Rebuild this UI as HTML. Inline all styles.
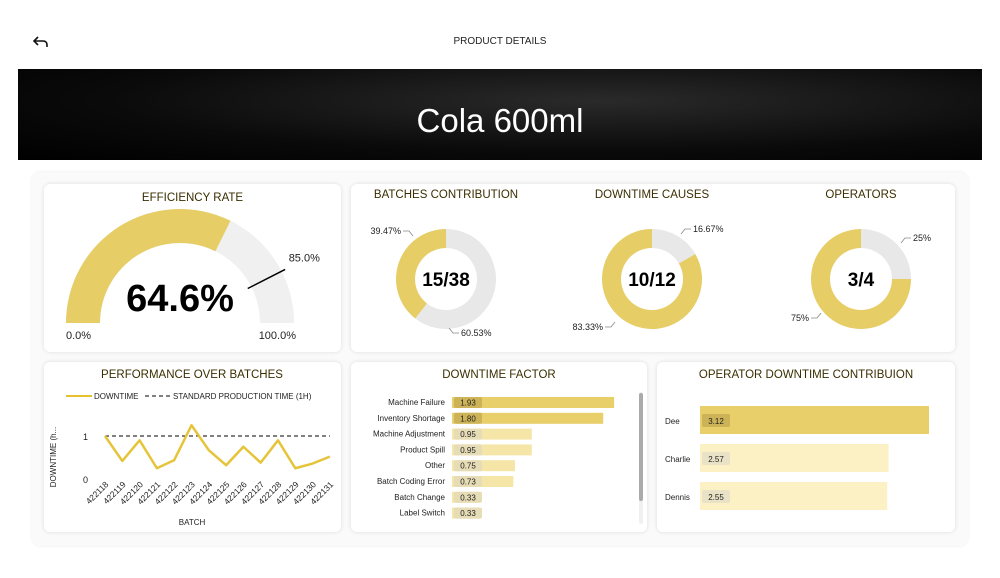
<!DOCTYPE html>
<html><head><meta charset="utf-8">
<style>
body{margin:0;width:1000px;height:578px;background:#fff;font-family:"Liberation Sans",sans-serif;overflow:hidden;position:relative}
.abs{position:absolute}
.card{position:absolute;background:#fff;border-radius:6px;box-shadow:0 0 4px rgba(0,0,0,0.12)}
.t{position:absolute;font-size:11.5px;color:#3a2e00;text-align:center;width:100%}
</style></head><body>
<svg class="abs" style="left:32px;top:34px" width="18" height="16" viewBox="0 0 18 16"><path d="M6 3 L2 7 L6 11 M2 7 H11 Q15 7 15 11 V13" fill="none" stroke="#111" stroke-width="1.6"/></svg>
<div class="abs" style="left:0;width:1000px;top:36px;text-align:center;font-size:10px;color:#222">PRODUCT DETAILS</div>
<div class="abs" style="left:18px;top:69px;width:964px;height:91px;background:radial-gradient(ellipse at 60% 35%,#2a2a2a 0%,#0a0a0a 60%,#000 100%)">
<div style="color:#fff;font-size:33px;text-align:center;margin-top:33px">Cola 600ml</div></div>
<div class="abs" style="left:32px;top:172px;width:936px;height:374px;background:#fafafa;border-radius:8px;box-shadow:0 0 3px rgba(0,0,0,0.08)"></div>

<div class="card" style="left:44px;top:184px;width:297px;height:168px">
<div class="t" style="top:8px">EFFICIENCY RATE</div></div>
<svg class="abs" id="gauge" style="left:44px;top:184px" width="297" height="168"></svg>

<div class="card" style="left:351px;top:184px;width:604px;height:168px"></div>
<svg class="abs" id="donuts" style="left:351px;top:184px" width="604" height="168"></svg>

<div class="card" style="left:44px;top:362px;width:297px;height:170px"></div>
<svg class="abs" id="perf" style="left:44px;top:362px" width="297" height="170"></svg>

<div class="card" style="left:351px;top:362px;width:296px;height:170px"></div>
<svg class="abs" id="factor" style="left:351px;top:362px" width="296" height="170"></svg>

<div class="card" style="left:657px;top:362px;width:298px;height:170px"></div>
<svg class="abs" id="oper" style="left:657px;top:362px" width="298" height="170"></svg>

<script>
const gaugeValue=64.6, gaugeTarget=85.0, gaugeMin=0, gaugeMax=100;
const donutTitles=["BATCHES CONTRIBUTION","DOWNTIME CAUSES","OPERATORS"];
const donutCenters=["15/38","10/12","3/4"];
const donutYellow=[39.47,83.33,75];
const donutGrey=[60.53,16.67,25];
const batches=["422118","422119","422120","422121","422122","422123","422124","422125","422126","422127","422128","422129","422130","422131"];
const downtime=[1.0,0.42,0.9,0.25,0.44,1.25,0.67,0.32,0.75,0.38,0.9,0.25,0.36,0.52];
const standardTime=1;
const factorCats=["Machine Failure","Inventory Shortage","Machine Adjustment","Product Spill","Other","Batch Coding Error","Batch Change","Label Switch"];
const factorVals=[1.93,1.80,0.95,0.95,0.75,0.73,0.33,0.33];
const operCats=["Dee","Charlie","Dennis"];
const operVals=[3.12,2.57,2.55];

const NS="http://www.w3.org/2000/svg";
function mk(p,tag,at,name){const e=document.createElementNS(NS,tag);for(const k in at)e.setAttribute(k,at[k]);


p.appendChild(e);return e;}
function txt(p,x,y,s,size,anchor,name,extra){const e=mk(p,'text',Object.assign({x:x,y:y,'font-size':size,'text-anchor':anchor||'start','font-family':'Liberation Sans, sans-serif',fill:'#222'},extra||{}),name);e.textContent=s;return e;}
const Y="#e6cd66", G="#e8e8e8";

// gauge
(function(){const s=document.getElementById('gauge');const cx=136,cy=139,R=114,r=80;
function ang(v){return Math.PI*(1-(v-gaugeMin)/(gaugeMax-gaugeMin));}
function arc(a0,a1,fill,name){const p=(a,rr)=>[cx+rr*Math.cos(a),cy-rr*Math.sin(a)];
const [x0,y0]=p(a0,R),[x1,y1]=p(a1,R),[x2,y2]=p(a1,r),[x3,y3]=p(a0,r);
mk(s,'path',{d:`M${x0} ${y0} A${R} ${R} 0 0 1 ${x1} ${y1} L${x2} ${y2} A${r} ${r} 0 0 0 ${x3} ${y3}Z`,fill:fill},name);}
arc(ang(gaugeMin),ang(gaugeMax),'#f0f0f0','gauge-track');
arc(ang(gaugeMin),ang(gaugeValue),Y,'gauge-value-arc');
const ta=ang(gaugeTarget);
mk(s,'line',{x1:cx+(r-4)*Math.cos(ta),y1:cy-(r-4)*Math.sin(ta),x2:cx+(R+4)*Math.cos(ta),y2:cy-(R+4)*Math.sin(ta),stroke:'#000','stroke-width':1.5},'gauge-target-line');
txt(s,cx+(R+8)*Math.cos(ta),cy-(R+8)*Math.sin(ta)-6,gaugeTarget.toFixed(1)+'%',11,'start','gauge-target-label');
txt(s,cx,cy-12,gaugeValue.toFixed(1)+'%',38,'middle','gauge-value',{'font-weight':'bold',fill:'#000'});
txt(s,22,155,gaugeMin.toFixed(1)+'%',11,'start','gauge-min-label');
txt(s,252,155,gaugeMax.toFixed(1)+'%',11,'end','gauge-max-label');
})();

// donuts
(function(){const s=document.getElementById('donuts');const cxs=[95,301,510],cy=95,R=50,r=31;
function seg(cx,a0,a1,fill,name){const p=(f,rr)=>{const a=2*Math.PI*f;return [cx+rr*Math.sin(a),cy-rr*Math.cos(a)];};
const large=(a1-a0)>0.5?1:0;const [x0,y0]=p(a0,R),[x1,y1]=p(a1,R),[x2,y2]=p(a1,r),[x3,y3]=p(a0,r);
mk(s,'path',{d:`M${x0} ${y0} A${R} ${R} 0 ${large} 1 ${x1} ${y1} L${x2} ${y2} A${r} ${r} 0 ${large} 0 ${x3} ${y3}Z`,fill:fill},name);}
for(let i=0;i<3;i++){const cx=cxs[i];const gf=donutGrey[i]/100;
txt(s,cx,14,donutTitles[i],11.5,'middle','donut-title',{fill:'#3a2e00'});
seg(cx,0,gf,G,'donut-grey-slice');seg(cx,gf,1,Y,'donut-yellow-slice');
txt(s,cx,102,donutCenters[i],19,'middle','donut-center-value',{'font-weight':'bold',fill:'#000'});}
const L=[[0,50,50,donutYellow[0]+'%','end',[52,47,58,47,62,52]],[0,110,152,donutGrey[0]+'%','start',[108,149,102,149,98,144]],[1,342,48,donutGrey[1]+'%','start',[340,45,334,45,330,50]],[1,252,146,donutYellow[1]+'%','end',[254,143,260,143,264,138]],[2,562,57,donutGrey[2]+'%','start',[560,54,554,54,550,59]],[2,458,137,donutYellow[2]+'%','end',[460,134,466,134,470,129]]];
L.forEach(l=>{txt(s,l[1],l[2],l[3],9,l[4],'donut-slice-label');
mk(s,'polyline',{points:l[5].join(' '),fill:'none',stroke:'#888','stroke-width':0.8},'donut-leader-line');});
})();

// performance line
(function(){const s=document.getElementById('perf');
txt(s,148,16,'PERFORMANCE OVER BATCHES',11.5,'middle','performance-title',{fill:'#3a2e00'});
mk(s,'line',{x1:22,y1:34,x2:48,y2:34,stroke:'#e6c22e','stroke-width':2},'legend-downtime-swatch');
txt(s,50,37,'DOWNTIME',8,'start','legend-downtime');
mk(s,'line',{x1:101,y1:34,x2:127,y2:34,stroke:'#000','stroke-width':1,'stroke-dasharray':'4,3'},'legend-standard-swatch');
txt(s,129,37,'STANDARD PRODUCTION TIME (1H)',8,'start','legend-standard');
const x0=61,dx=17.3,y0=117,k=43;const X=i=>x0+i*dx,Yv=v=>y0-v*k;
txt(s,44,Yv(1)+4,'1',9,'end','y-tick-1');txt(s,44,Yv(0)+4,'0',9,'end','y-tick-0');
txt(s,0,0,'DOWNTIME (h...',8,'middle','y-axis-title',{transform:`translate(12,${y0-22}) rotate(-90)`});
mk(s,'line',{x1:X(0),y1:Yv(standardTime),x2:X(batches.length-1),y2:Yv(standardTime),stroke:'#000','stroke-width':1,'stroke-dasharray':'4,3'},'standard-time-line');
mk(s,'polyline',{points:downtime.map((v,i)=>X(i)+','+Yv(v)).join(' '),fill:'none',stroke:'#e6c43a','stroke-width':2.5,'stroke-linejoin':'round'},'downtime-line');
batches.forEach((b,i)=>txt(s,0,0,b,8.5,'end','x-tick-label',{transform:`translate(${X(i)+4},${y0+6}) rotate(-45)`}));
txt(s,148,163,'BATCH',8,'middle','x-axis-title');
})();

// downtime factor
(function(){const s=document.getElementById('factor');
txt(s,148,16,'DOWNTIME FACTOR',11.5,'middle','downtime-factor-title',{fill:'#3a2e00'});
const x0=101,k=84,rowH=15.8,top=35;
factorCats.forEach((c,i)=>{const y=top+i*rowH;const big=factorVals[i]>1.5;
txt(s,94,y+8,c,8,'end','factor-label');
mk(s,'rect',{x:x0,y:y,width:factorVals[i]*k,height:11,fill:big?'#e8cf6a':'#f5e6a8'},'factor-bar');
mk(s,'rect',{x:x0+2,y:y,width:28,height:11,rx:2,fill:big?'#cdb357':'#e6dcb6'},'factor-value-pill');
txt(s,x0+16,y+8.5,factorVals[i].toFixed(2),8,'middle','factor-value');});
mk(s,'rect',{x:288,y:30,width:4,height:132,rx:2,fill:'#f0f0f0'},'scrollbar-track');
mk(s,'rect',{x:288,y:31,width:4,height:108,rx:2,fill:'#aaa'},'scrollbar-thumb');
})();

// operators
(function(){const s=document.getElementById('oper');
txt(s,149,16,'OPERATOR DOWNTIME CONTRIBUION',11.5,'middle','operator-title',{fill:'#3a2e00'});
const x0=43,k=73.4,top=44,rowH=38;
operCats.forEach((c,i)=>{const y=top+i*rowH;const big=i===0;
txt(s,8,y+18,c,8,'start','operator-label');
mk(s,'rect',{x:x0,y:y,width:operVals[i]*k,height:28,fill:big?'#e8cf6a':'#fbf1c4'},'operator-bar');
mk(s,'rect',{x:x0+2,y:y+8,width:28,height:13,rx:2,fill:big?'#cdb357':'#e9e2c6'},'operator-value-pill');
txt(s,x0+16,y+18,operVals[i].toFixed(2),8,'middle','operator-value');});
})();
</script>
</body></html>
